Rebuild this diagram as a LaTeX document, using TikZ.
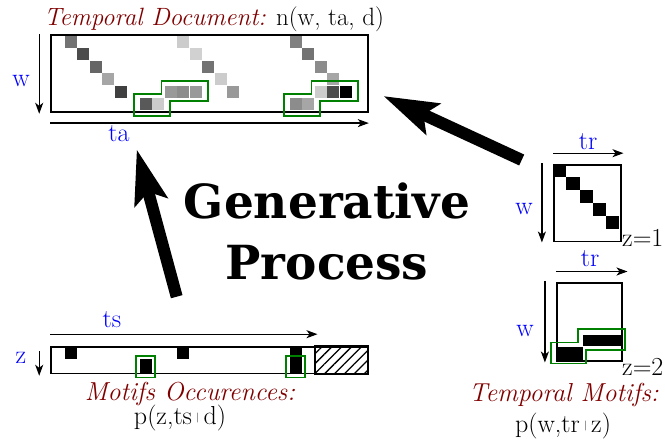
\documentclass[tikz,border=0pt]{standalone}
\usepackage{fontspec}
\newfontfamily\gpfont{DejaVu Serif}
\usepackage{tikz}
\usetikzlibrary{arrows.meta, positioning, patterns.meta}
\definecolor{mydarkred}{RGB}{128,0,0}
\definecolor{myblue}{RGB}{0,0,255}
\definecolor{mygreen}{RGB}{0,128,0}
\newcommand{\given}{\,\raisebox{3.5pt}{\fontsize{10}{10}\selectfont |}\,}

\begin{document}
\begin{tikzpicture}[x=1pt, y=-1pt,
    axis/.style={-{Stealth[length=11pt, width=8pt, inset=3pt]}, line width=1.2pt},
    axis_label/.style={font=\fontsize{26}{30}\selectfont, text=myblue, anchor=base, inner sep=0pt},
    frame/.style={draw, line width=1.6pt, inner sep=0pt},
    motif/.style={draw=mygreen, line width=1.8pt},
    title/.style={font=\fontsize{26}{30}\selectfont\itshape, text=mydarkred, anchor=base, inner sep=0pt},
    formula/.style={font=\fontsize{26}{30}\selectfont, anchor=base, inner sep=0pt},
    big_arrow/.style={-{Stealth[length=54pt, width=33pt, inset=10pt]}, line width=12pt}
]
    \useasboundingbox (0,0) rectangle (665,441);

    % Temporal document n(w, ta, d)
    \node[formula, font=\fontsize{25}{30}\selectfont] (doc_title) at (214,25.5) {\textcolor{mydarkred}{\itshape Temporal Document:} n(w, ta, d)};
    \node[frame, minimum width=317pt, minimum height=77pt] (doc) at (209.5,73.5) {};

    % Document cells (column/row/gray)
    \begin{scope}[shift={([xshift=14.7pt, yshift=-1.7pt]doc.north west)}, x=12.5pt, y=-12.5pt]
        \foreach \c/\r/\g in {0/0/55, 1/1/70, 2/2/60, 3/3/35, 4/4/75,
                              9/0/20, 10/1/18, 11/2/55, 12/3/20, 13/4/40,
                              18/0/50, 19/1/55, 20/2/45, 21/3/35,
                              6/5/65, 7/5/20, 8/4/40, 9/4/45, 10/4/40,
                              18/5/45, 19/5/35, 20/4/20, 21/4/70, 22/4/100}
            \fill[black!\g] (\c,\r) rectangle (\c+0.96,\r+0.96);
        % motif occurrences in the document
        \foreach \s in {6,18}
            \draw[motif] (\s-0.5,4.66) -- (\s-0.5,6.4) -- (\s+2.38,6.4) -- (\s+2.38,5.24)
                -- (\s+5.45,5.24) -- (\s+5.45,3.62) -- (\s+1.72,3.62) -- (\s+1.72,4.66) -- cycle;
    \end{scope}

    % Document axes
    \draw[axis] ([xshift=-11pt]doc.north west) -- ([xshift=-11pt, yshift=-1pt]doc.south west);
    \node[axis_label] (doc_w) at (21,87) {w};
    \draw[axis] ([yshift=-10.3pt]doc.south west) -- ([yshift=-10.3pt]doc.south east);
    \node[axis_label] (doc_ta) at (119,141.5) {ta};

    % Temporal motif z=1
    \node[frame, minimum width=66.7pt, minimum height=76.7pt] (motif_z1) at (587.35,203.35) {};
    \begin{scope}[shift={(motif_z1.north west)}, x=13.2pt, y=-13pt]
        \foreach \i in {0,...,4}
            \fill (\i,\i) rectangle (\i+1,\i+1);
    \end{scope}
    \draw[axis] ([yshift=11pt]motif_z1.north west) -- ([xshift=2pt, yshift=11pt]motif_z1.north east);
    \node[axis_label] (z1_tr) at (588,150) {tr};
    \draw[axis] ([xshift=-11.3pt, yshift=1pt]motif_z1.north west) -- ([xshift=-11.3pt]motif_z1.south west);
    \node[axis_label] (z1_w) at (524,215) {w};
    \node[formula, anchor=base west] (z1_label) at (622,247) {z=1};

    % Temporal motif z=2
    \node[frame, minimum width=65pt, minimum height=77.4pt] (motif_z2) at (589.2,322) {};
    \begin{scope}[shift={(motif_z2.north west)}]
        \fill (26.6,52.4) rectangle (65,63.6);
        \fill (0,64.4) rectangle (26.6,77.4);
        \draw[motif] (-5,60) -- (-5,81) -- (30,81) -- (30,67.4) -- (69,67.4)
            -- (69,46.7) -- (22.3,46.7) -- (22.3,60) -- cycle;
    \end{scope}
    \draw[axis] ([yshift=11pt]motif_z2.north west) -- ([xshift=5pt, yshift=11pt]motif_z2.north east);
    \node[axis_label] (z2_tr) at (590,266.7) {tr};
    \draw[axis] ([xshift=-11pt, yshift=1.6pt]motif_z2.north west) -- ([xshift=-11pt, yshift=-1pt]motif_z2.south west);
    \node[axis_label] (z2_w) at (525,336) {w};
    \node[formula, anchor=base west] (z2_label) at (622,375.5) {z=2};

    \node[title] (motifs_title) at (564,401) {Temporal Motifs:};
    \node[formula] (motifs_formula) at (563,432) {p(w,tr\given z)};

    % Motif occurrences p(z, ts | d)
    \node[frame, minimum width=316.3pt, minimum height=26.6pt] (occ_bar) at (209.15,360) {};
    \draw[line width=1.6pt, pattern={Lines[angle=45, distance=7pt, line width=1.3pt]}]
        ([xshift=-53.3pt]occ_bar.north east) rectangle (occ_bar.south east);
    \begin{scope}[shift={([xshift=14.7pt]occ_bar.north west)}, x=12.5pt, y=-13.3pt]
        \foreach \c in {0,9}
            \fill (\c,0.08) rectangle (\c+0.96,1);
        \fill (6,1) rectangle (6.96,2);
        \fill (18,0.08) rectangle (18.96,2);
        \foreach \c in {6,18}
            \draw[motif] (\c-0.32,0.75) rectangle (\c+1.22,2.38);
    \end{scope}
    \draw[axis] ([yshift=11.7pt]occ_bar.north west) -- ([xshift=-50.6pt, yshift=11.7pt]occ_bar.north east);
    \node[axis_label] (occ_ts) at (112,327) {ts};
    \draw[axis] ([xshift=-11pt, yshift=-5.3pt]occ_bar.north west) -- ([xshift=-11pt, yshift=-1.7pt]occ_bar.south west);
    \node[axis_label] (occ_z) at (21,363) {z};

    \node[title] (occ_title) at (190,400) {Motifs Occurences:};
    \node[formula] (occ_formula) at (180,424) {p(z,ts\given d)};

    % Generative process
    \node[font=\gpfont\fontsize{47}{61}\selectfont\bfseries, align=center] (gen_process) at (327,231) {Generative\\Process};

    \coordinate (occ_src) at (176.7,296.7);
    \coordinate (doc_dst_occ) at (136.7,149.3);
    \coordinate (motif_src) at (521.7,160);
    \coordinate (doc_dst_motif) at (383.3,96);
    \draw[big_arrow] (occ_src) -- (doc_dst_occ);
    \draw[big_arrow] (motif_src) -- (doc_dst_motif);

\end{tikzpicture}
\end{document}
